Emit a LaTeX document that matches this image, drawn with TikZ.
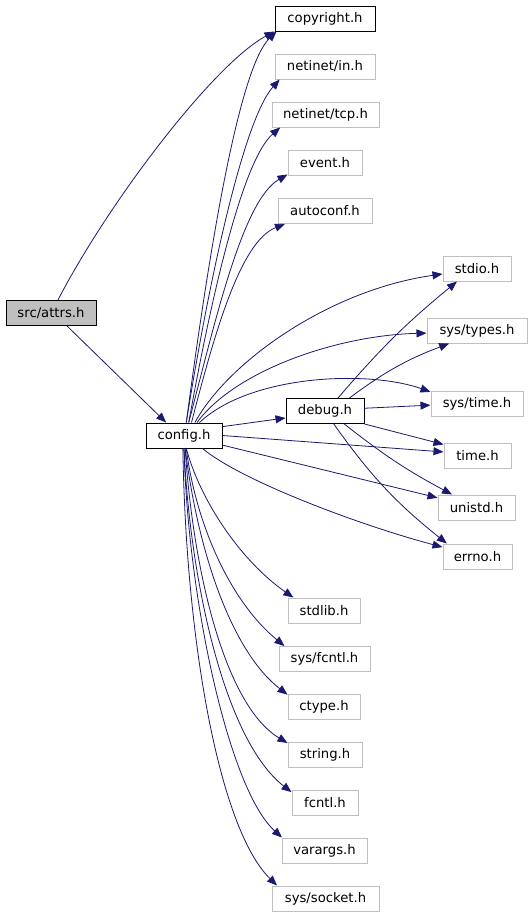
\documentclass[tikz,border=0pt]{standalone}
\usepackage{fontspec}
\setmainfont{DejaVu Sans}
\usetikzlibrary{arrows.meta}
\definecolor{arista}{HTML}{191970}
\definecolor{gris}{HTML}{BFBFBF}
\tikzset{
  hdr/.style={draw=black, line width=0.75pt, inner sep=0pt, minimum height=18.75pt, minimum width=#1*0.75pt, font=\fontsize{9.9}{12}\selectfont},
  sys/.style={hdr=#1, draw=gris},
  dep/.style={draw=arista, line width=0.6pt, -{Triangle[length=7.5pt,width=6pt]}}
}
\begin{document}
\begin{tikzpicture}[x=0.75pt, y=0.75pt]
    \fill[white] (0,0) rectangle (531,-915);
    \useasboundingbox (0,0) rectangle (531,-915);

    % Nodos principales
    \node[hdr=90, fill=gris] (attrs) at (51,-313) {src/attrs.h};
    \node[hdr=76] (config) at (184,-435.5) {config.h};
    \node[hdr=78] (debug) at (325,-411) {debug.h};

    % Cabeceras de arriba
    \node[hdr=100] (copyright) at (325,-18.5) {copyright.h};
    \node[sys=100] (netin) at (325,-66.5) {netinet/in.h};
    \node[sys=107] (nettcp) at (325.5,-114.5) {netinet/tcp.h};
    \node[sys=74] (event) at (325,-163) {event.h};
    \node[sys=94] (autoconf) at (325,-211) {autoconf.h};

    % Cabeceras de la derecha
    \node[sys=68] (stdio) at (477,-268.5) {stdio.h};
    \node[sys=100] (systypes) at (477,-330.5) {sys/types.h};
    \node[sys=92] (systime) at (477,-403.5) {sys/time.h};
    \node[sys=67] (time) at (477.5,-455.5) {time.h};
    \node[sys=77] (unistd) at (476.5,-507.5) {unistd.h};
    \node[sys=69] (errno) at (477.5,-556.5) {errno.h};

    % Cabeceras de abajo
    \node[sys=72] (stdlib) at (324,-610.5) {stdlib.h};
    \node[sys=91] (sysfcntl) at (324.5,-659) {sys/fcntl.h};
    \node[sys=72] (ctype) at (324,-706.5) {ctype.h};
    \node[sys=74] (string) at (325,-754.5) {string.h};
    \node[sys=66] (fcntl) at (325,-803) {fcntl.h};
    \node[sys=85] (varargs) at (324.5,-850.5) {varargs.h};
    \node[sys=107] (syssocket) at (325.5,-898.5) {sys/socket.h};

    % Desde src/attrs.h
    \draw[dep] (attrs.62) .. controls +(52,100) and +(-60,-32) .. (copyright.south west);
    \draw[dep] (attrs.-39) -- (config.144);

    % Desde config.h hacia arriba
    \draw[dep] (config.80) .. controls +(19,143) and +(-40,-39) .. (copyright.195);
    \draw[dep] (config.80) .. controls +(21,133) and +(-37,-41) .. (netin.196);
    \draw[dep] (config.70) .. controls +(22,123) and +(-38,-33) .. (nettcp.196);
    \draw[dep] (config.70) .. controls +(27,103) and +(-45,-26) .. (event.197);
    \draw[dep] (config.60) .. controls +(24,93) and +(-44,-17) .. (autoconf.198);

    % Desde config.h hacia la derecha
    \draw[dep] (config.50) .. controls +(33.5,61) and +(-113,-16) .. (stdio.189);
    \draw[dep] (config.45) .. controls +(39,53) and +(-87,-2) .. (systypes.183);
    \draw[dep] (config.40) .. controls +(51,48) and +(-62,22) .. (systime.166);
    \draw[dep] (config.13) -- (debug.190);
    \draw[dep] (config.east) -- (time.174);
    \draw[dep] (config.-14) -- (unistd.166);
    \draw[dep] (config.-35) .. controls +(38,-32) and +(-83,22) .. (errno.165);

    % Desde debug.h
    \draw[dep] (debug.45) to[bend left=5] (stdio.213);
    \draw[dep] (debug.28) to[bend left=8] (systypes.205);
    \draw[dep] (debug.4) -- (systime.182);
    \draw[dep] (debug.south east) -- (time.162);
    \draw[dep] (debug.-34) to[bend right=5] (unistd.152);
    \draw[dep] (debug.-56) to[bend right=8] (errno.157);

    % Desde config.h hacia abajo
    \draw[dep] (config.-80) .. controls +(14,-52) and +(-53,37) .. (stdlib.157);
    \draw[dep] (config.-80) .. controls +(9,-72) and +(-56,46) .. (sysfcntl.162);
    \draw[dep] (config.-85) .. controls +(14,-112) and +(-53,41) .. (ctype.162);
    \draw[dep] (config.-85) .. controls +(8,-122) and +(-63,38) .. (string.163);
    \draw[dep] (config.south) .. controls +(6,-132) and +(-67,52) .. (fcntl.162);
    \draw[dep] (config.south) .. controls +(4,-152) and +(-53,48) .. (varargs.163);
    \draw[dep] (config.-95) .. controls +(3,-192) and +(-58,57) .. (syssocket.165);
\end{tikzpicture}
\end{document}
